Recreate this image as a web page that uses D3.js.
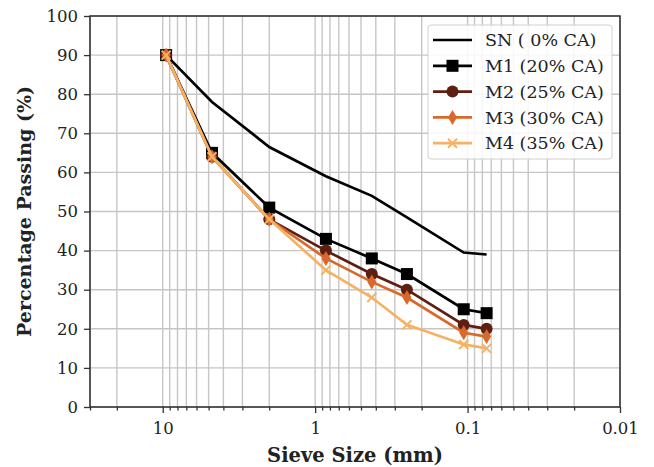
<!DOCTYPE html>
<html>
<head>
<meta charset="utf-8">
<script src="https://cdn.jsdelivr.net/npm/d3@7"></script>
<style>
  body { margin: 0; background: #fff; }
  svg text { font-family: "DejaVu Serif", serif; fill: #222; }
</style>
</head>
<body>
<div id="chart"></div>
<script>
// sieve sizes (mm) and percentage passing
const sieves = [9.5, 4.75, 2.0, 0.85, 0.425, 0.25, 0.106, 0.075];
const sn = [90, 78, 66.5, 59, 54, 48.5, 39.5, 39];
const m1 = [90, 65, 51, 43, 38, 34, 25, 24];
const m2 = [90, 64, 48, 40, 34, 30, 21, 20];
const m3 = [90, 64, 48, 38, 32, 28, 19, 18];
const m4 = [90, 64, 48, 35, 28, 21, 16, 15];
const seriesNames = ["SN ( 0% CA)", "M1 (20% CA)", "M2 (25% CA)", "M3 (30% CA)", "M4 (35% CA)"];
const yTicks = [0, 10, 20, 30, 40, 50, 60, 70, 80, 90, 100];
const xTicks = [10, 1, 0.1, 0.01];

const series = [
  { name: seriesNames[0], values: sn, color: "#000000", marker: "none" },
  { name: seriesNames[1], values: m1, color: "#000000", marker: "square" },
  { name: seriesNames[2], values: m2, color: "#5e1f12", marker: "circle" },
  { name: seriesNames[3], values: m3, color: "#d9692b", marker: "diamond" },
  { name: seriesNames[4], values: m4, color: "#f6b264", marker: "x" }
];

const W = 654, H = 467;
const margin = { top: 16, right: 34, bottom: 60, left: 90 },
  width = W - margin.left - margin.right,
  height = H - margin.top - margin.bottom;

const svg = d3.select("#chart")
  .append("svg")
  .attr("width", W)
  .attr("height", H)
  .append("g")
  .attr("transform", `translate(${margin.left},${margin.top})`);

const x = d3.scaleLog().domain([30, 0.01]).range([0, width]);
const y = d3.scaleLinear().domain([0, 100]).range([height, 0]);

// minor log ticks
const minor = [];
[0.01, 0.1, 1, 10].forEach(dec => {
  for (let k = 1; k <= 9; k++) {
    const v = dec * k;
    if (v <= 30 && v >= 0.01) minor.push(v);
  }
});
minor.push(20, 30);
const minorTicks = Array.from(new Set(minor.map(v => +v.toPrecision(3))));

// gridlines
const grid = svg.append("g").attr("stroke", "#c6c6c6").attr("stroke-width", 1.4);
grid.selectAll(".vg").data(minorTicks).join("line")
  .attr("x1", d => x(d)).attr("x2", d => x(d))
  .attr("y1", 0).attr("y2", height);
grid.selectAll(".hg").data(yTicks).join("line")
  .attr("x1", 0).attr("x2", width)
  .attr("y1", d => y(d)).attr("y2", d => y(d));

// axes
const xAxis = svg.append("g")
  .attr("transform", `translate(0,${height})`)
  .call(d3.axisBottom(x).tickValues(xTicks).tickFormat(d => String(d)).tickSize(6).tickPadding(9));
const xMinor = svg.append("g")
  .attr("transform", `translate(0,${height})`)
  .call(d3.axisBottom(x).tickValues(minorTicks.filter(v => !xTicks.includes(v))).tickFormat("").tickSize(3.5));
const yAxis = svg.append("g")
  .call(d3.axisLeft(y).tickValues(yTicks).tickSize(6).tickPadding(6));

[xAxis, xMinor, yAxis].forEach(a => {
  a.select(".domain").remove();
  a.selectAll("line").attr("stroke", "#333").attr("stroke-width", 1.3);
  a.selectAll("text").style("font-size", "16.5px").attr("fill", "#222");
});

// frame
svg.append("rect")
  .attr("width", width).attr("height", height)
  .attr("fill", "none").attr("stroke", "#2b2f33").attr("stroke-width", 1.5);

// lines
const line = d3.line()
  .x((d, i) => x(sieves[i]))
  .y(d => y(d));

function drawMarker(g, type, color, cx, cy) {
  if (type === "square") {
    g.append("rect").attr("x", cx - 6).attr("y", cy - 6).attr("width", 12).attr("height", 12)
      .attr("fill", color);
  } else if (type === "circle") {
    g.append("circle").attr("cx", cx).attr("cy", cy).attr("r", 6).attr("fill", color);
  } else if (type === "diamond") {
    g.append("path").attr("d", `M${cx},${cy - 7.5}L${cx + 4.5},${cy}L${cx},${cy + 7.5}L${cx - 4.5},${cy}Z`)
      .attr("fill", color);
  } else if (type === "x") {
    g.append("path").attr("d", `M${cx - 4.5},${cy - 4.5}L${cx + 4.5},${cy + 4.5}M${cx - 4.5},${cy + 4.5}L${cx + 4.5},${cy - 4.5}`)
      .attr("stroke", color).attr("stroke-width", 2).attr("fill", "none");
  }
}

// series in plotting order, later ones on top
series.forEach(s => {
  const g = svg.append("g");
  g.append("path")
    .datum(s.values)
    .attr("fill", "none")
    .attr("stroke", s.color)
    .attr("stroke-width", 2.7)
    .attr("d", line);
  s.values.forEach((v, i) => drawMarker(g, s.marker, s.color, x(sieves[i]), y(v)));
});

// legend
const legend = svg.append("g").attr("transform", `translate(${428 - margin.left},${25 - margin.top})`);
legend.append("rect")
  .attr("width", 184).attr("height", 134).attr("rx", 3)
  .attr("fill", "rgba(255,255,255,0.85)").attr("stroke", "#d0d0d0");
series.forEach((s, i) => {
  const ly = 15 + i * 25.8;
  const g = legend.append("g");
  g.append("line").attr("x1", 5).attr("x2", 44).attr("y1", ly).attr("y2", ly)
    .attr("stroke", s.color).attr("stroke-width", 2.7);
  drawMarker(g, s.marker, s.color, 24.5, ly);
  g.append("text").attr("x", 57).attr("y", ly).attr("dy", "0.35em")
    .style("font-size", "17.5px").text(s.name);
});

// axis titles
svg.append("text")
  .attr("x", width / 2).attr("y", height + 55)
  .attr("text-anchor", "middle")
  .style("font-size", "19.5px").style("font-weight", "bold")
  .text("Sieve Size (mm)");

svg.append("text")
  .attr("transform", "rotate(-90)")
  .attr("x", -height / 2).attr("y", -margin.left + 24)
  .attr("text-anchor", "middle").attr("dy", "0.35em")
  .style("font-size", "19px").style("font-weight", "bold")
  .text("Percentage Passing (%)");
</script>
</body>
</html>
